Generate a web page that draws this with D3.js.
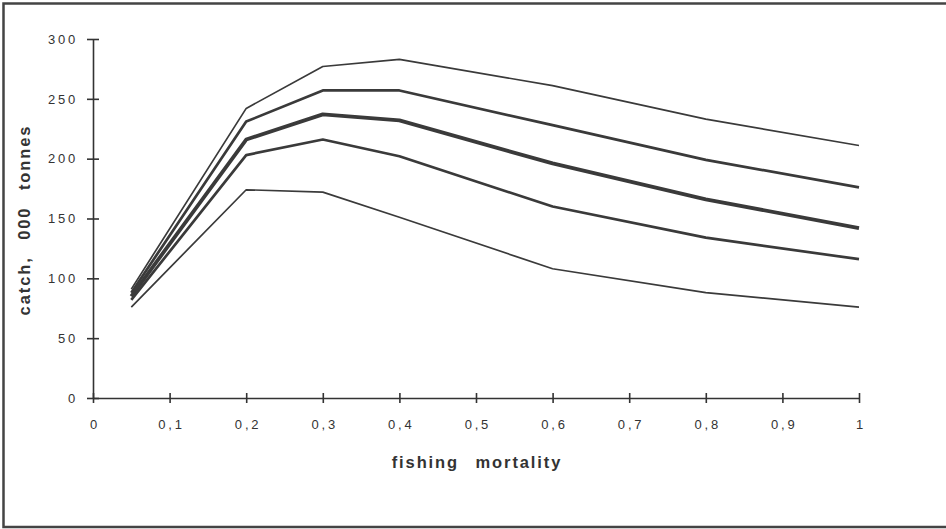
<!DOCTYPE html>
<html>
<head>
<meta charset="utf-8">
<script src="https://cdn.jsdelivr.net/npm/d3@7"></script>
<style>
  html, body { margin: 0; padding: 0; background: #fff; }
  svg { display: block; }
  .tick text { font-family: "Liberation Sans", Arial, sans-serif; font-size: 13px; letter-spacing: 2.8px; fill: #333; }
  .axis-title { font-family: "Liberation Sans", Arial, sans-serif; font-size: 16.5px; font-weight: bold; letter-spacing: 1.9px; fill: #333; word-spacing: 10px; }
</style>
</head>
<body>
<svg id="chart" width="946" height="529"></svg>
<script>
// Fishing mortality levels at which catch was computed
const mortality = [0.05, 0.2, 0.3, 0.4, 0.6, 0.8, 1.0];

// Catch ('000 tonnes) for each scenario, highest to lowest
const catchHigh     = [91, 242, 277, 283, 261, 233, 211];
const catchUpper    = [88, 231, 257, 257, 228, 199, 176];
const catchMedian   = [85, 216, 237, 232, 196, 166, 142];
const catchLower    = [82, 203, 216, 202, 160, 134, 116];
const catchLow      = [76, 174, 172, 151, 108, 88, 76];

const xTicks = [0, 0.1, 0.2, 0.3, 0.4, 0.5, 0.6, 0.7, 0.8, 0.9, 1];
const yTicks = [0, 50, 100, 150, 200, 250, 300];

const series = [
  { values: catchHigh,   width: 1.7 },
  { values: catchUpper,  width: 2.7 },
  { values: catchMedian, width: 3.8 },
  { values: catchLower,  width: 2.7 },
  { values: catchLow,    width: 1.7 }
];

const svg = d3.select("#chart");
const ink = "#333";

// outer frame
svg.append("path")
  .attr("d", "M950,3.5 H3.5 V527 H950")
  .attr("fill", "none").attr("stroke", "#444").attr("stroke-width", 2.5);

const x = d3.scaleLinear().domain([0, 1]).range([93, 859]);
const y = d3.scaleLinear().domain([0, 300]).range([398, 39]);

const fmt = d => d === 0 ? "0" : d === 1 ? "1" : d3.format(".1f")(d).replace(".", ",");

const xAxis = svg.append("g")
  .attr("transform", `translate(0,${y(0)})`)
  .call(d3.axisBottom(x).tickValues(xTicks).tickFormat(fmt).tickSize(5).tickSizeOuter(0).tickPadding(14));
xAxis.selectAll(".tick line").attr("y1", -5);
xAxis.selectAll(".tick text").attr("dy", "0.9em").attr("dx", "1.4px");

const yAxis = svg.append("g")
  .attr("transform", `translate(${x(0)},0)`)
  .call(d3.axisLeft(y).tickValues(yTicks).tickFormat(d3.format("d")).tickSize(6).tickSizeOuter(0).tickPadding(9));
yAxis.selectAll(".tick line").attr("x1", 6).attr("x2", -6);

svg.selectAll(".domain").attr("stroke", ink).attr("stroke-width", 1.6);
svg.selectAll(".tick line").attr("stroke", ink).attr("stroke-width", 1.6);

const line = d3.line()
  .x((d, i) => x(mortality[i]))
  .y(d => y(d));

svg.append("g").selectAll("path")
  .data(series)
  .join("path")
  .attr("d", s => line(s.values))
  .attr("fill", "none")
  .attr("stroke", "#3a3a3a")
  .attr("stroke-width", s => s.width)
  .attr("stroke-linejoin", "round");

// axis titles
svg.append("text")
  .attr("class", "axis-title")
  .attr("x", 477).attr("y", 468)
  .attr("text-anchor", "middle")
  .text("fishing mortality");

svg.append("text")
  .attr("class", "axis-title")
  .attr("transform", "translate(30,220) rotate(-90)")
  .attr("text-anchor", "middle")
  .text("catch, 000 tonnes");
</script>
</body>
</html>
